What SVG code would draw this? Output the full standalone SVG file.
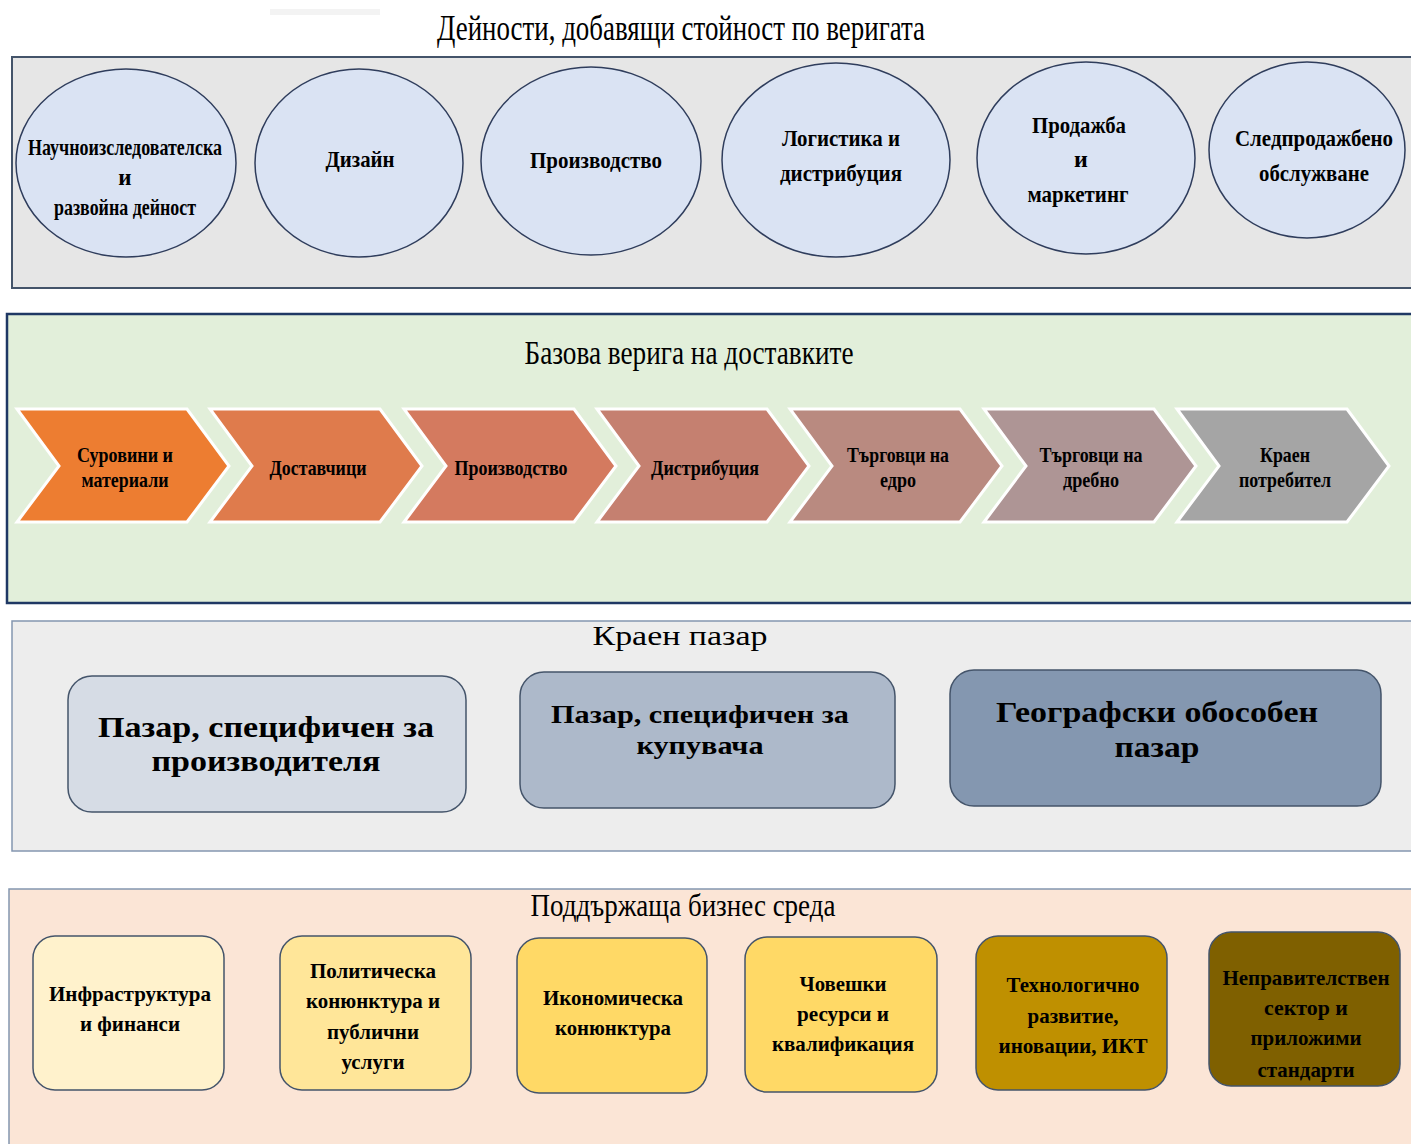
<svg xmlns="http://www.w3.org/2000/svg" width="1411" height="1144" viewBox="0 0 1411 1144">
<style>
.t{font-family:"Liberation Serif","Times New Roman",serif;fill:#000;text-anchor:middle}
.title{font-weight:normal}
.b{font-weight:bold}
.circ{fill:#dae3f3;stroke:#2f3d5c;stroke-width:1.5}
.chev{stroke:#ffffff;stroke-width:3;stroke-linejoin:miter}
.mbox{stroke:#44546a;stroke-width:1.5}
.ebox{stroke:#44546a;stroke-width:1.5}
</style>
<rect width="1411" height="1144" fill="#ffffff"/>
<rect x="270" y="9" width="110" height="6" fill="#f3f3f3"/>

<!-- Panel 1 -->
<g id="panel-activities">
<rect x="12" y="57" width="1404" height="231" fill="#e6e6e6" stroke="#44546a" stroke-width="2"/>
<text class="t title" x="681" y="40" font-size="35" textLength="488" lengthAdjust="spacingAndGlyphs">Дейности, добавящи стойност по веригата</text>
</g>
<g id="n-rd"><ellipse class="circ" cx="126" cy="163" rx="110" ry="94"/>
<text class="t b" font-size="23" x="125" y="155" textLength="194" lengthAdjust="spacingAndGlyphs">Научноизследователска</text>
<text class="t b" font-size="23" x="125" y="185">и</text>
<text class="t b" font-size="23" x="125" y="215" textLength="142" lengthAdjust="spacingAndGlyphs">развойна дейност</text></g>
<g id="n-design"><ellipse class="circ" cx="359" cy="163" rx="104" ry="94"/>
<text class="t b" font-size="24" x="360" y="167" textLength="69" lengthAdjust="spacingAndGlyphs">Дизайн</text></g>
<g id="n-prod"><ellipse class="circ" cx="591" cy="161" rx="110" ry="94"/>
<text class="t b" font-size="24" x="596" y="168" textLength="132" lengthAdjust="spacingAndGlyphs">Производство</text></g>
<g id="n-log"><ellipse class="circ" cx="836" cy="160" rx="114" ry="97"/>
<text class="t b" font-size="24" x="841" y="146" textLength="118" lengthAdjust="spacingAndGlyphs">Логистика и</text>
<text class="t b" font-size="24" x="841" y="181" textLength="122" lengthAdjust="spacingAndGlyphs">дистрибуция</text></g>
<g id="n-sales"><ellipse class="circ" cx="1086" cy="158" rx="109" ry="96"/>
<text class="t b" font-size="24" x="1079" y="133" textLength="94" lengthAdjust="spacingAndGlyphs">Продажба</text>
<text class="t b" font-size="24" x="1081" y="167">и</text>
<text class="t b" font-size="24" x="1078" y="202" textLength="101" lengthAdjust="spacingAndGlyphs">маркетинг</text></g>
<g id="n-after"><ellipse class="circ" cx="1307" cy="150" rx="98" ry="88"/>
<text class="t b" font-size="24" x="1314" y="146" textLength="158" lengthAdjust="spacingAndGlyphs">Следпродажбено</text>
<text class="t b" font-size="24" x="1314" y="181" textLength="110" lengthAdjust="spacingAndGlyphs">обслужване</text></g>

<!-- Panel 2 -->
<g id="panel-supply">
<rect x="7" y="314" width="1410" height="289" fill="#e2efda" stroke="#1f3864" stroke-width="2.5"/>
<text class="t title" x="689" y="364" font-size="33" textLength="329" lengthAdjust="spacingAndGlyphs">Базова верига на доставките</text>
</g>
<g id="connectors"></g>
<g id="c1"><polygon class="chev" fill="#ed7d31" points="17,409 187,409 229,466 187,522 17,522 59,466"/>
<text class="t b" font-size="21" x="125" y="462" textLength="96" lengthAdjust="spacingAndGlyphs">Суровини и</text>
<text class="t b" font-size="21" x="125" y="487" textLength="87" lengthAdjust="spacingAndGlyphs">материали</text></g>
<g id="c2"><polygon class="chev" fill="#df7b4c" points="210,409 380,409 422,466 380,522 210,522 252,466"/>
<text class="t b" font-size="21" x="318" y="475" textLength="97" lengthAdjust="spacingAndGlyphs">Доставчици</text></g>
<g id="c3"><polygon class="chev" fill="#d47a5f" points="404,409 574,409 616,466 574,522 404,522 446,466"/>
<text class="t b" font-size="21" x="511" y="475" textLength="113" lengthAdjust="spacingAndGlyphs">Производство</text></g>
<g id="c4"><polygon class="chev" fill="#c58070" points="597,409 767,409 809,466 767,522 597,522 639,466"/>
<text class="t b" font-size="21" x="705" y="475" textLength="108" lengthAdjust="spacingAndGlyphs">Дистрибуция</text></g>
<g id="c5"><polygon class="chev" fill="#b98a80" points="790,409 960,409 1002,466 960,522 790,522 832,466"/>
<text class="t b" font-size="21" x="898" y="462" textLength="102" lengthAdjust="spacingAndGlyphs">Търговци на</text>
<text class="t b" font-size="21" x="898" y="487" textLength="36" lengthAdjust="spacingAndGlyphs">едро</text></g>
<g id="c6"><polygon class="chev" fill="#ae9595" points="984,409 1154,409 1196,466 1154,522 984,522 1026,466"/>
<text class="t b" font-size="21" x="1091" y="462" textLength="103" lengthAdjust="spacingAndGlyphs">Търговци на</text>
<text class="t b" font-size="21" x="1091" y="487" textLength="56" lengthAdjust="spacingAndGlyphs">дребно</text></g>
<g id="c7"><polygon class="chev" fill="#a5a5a5" points="1177,409 1347,409 1389,466 1347,522 1177,522 1219,466"/>
<text class="t b" font-size="21" x="1285" y="462" textLength="50" lengthAdjust="spacingAndGlyphs">Краен</text>
<text class="t b" font-size="21" x="1285" y="487" textLength="92" lengthAdjust="spacingAndGlyphs">потребител</text></g>

<!-- Panel 3 -->
<g id="panel-market">
<rect x="12" y="621" width="1404" height="230" fill="#ededed" stroke="#8496b0" stroke-width="1.5"/>
<text class="t title" x="680" y="645" font-size="28" textLength="175" lengthAdjust="spacingAndGlyphs">Краен пазар</text>
</g>
<g id="m1"><rect class="mbox" x="68" y="676" width="398" height="136" rx="24" fill="#d6dce5"/>
<text class="t b" font-size="29" x="266" y="737" textLength="336" lengthAdjust="spacingAndGlyphs">Пазар, специфичен за</text>
<text class="t b" font-size="29" x="266" y="771" textLength="229" lengthAdjust="spacingAndGlyphs">производителя</text></g>
<g id="m2"><rect class="mbox" x="520" y="672" width="375" height="136" rx="24" fill="#adb9ca"/>
<text class="t b" font-size="26" x="700" y="723" textLength="298" lengthAdjust="spacingAndGlyphs">Пазар, специфичен за</text>
<text class="t b" font-size="26" x="700" y="754" textLength="127" lengthAdjust="spacingAndGlyphs">купувача</text></g>
<g id="m3"><rect class="mbox" x="950" y="670" width="431" height="136" rx="24" fill="#8497b0"/>
<text class="t b" font-size="30" x="1157" y="722" textLength="322" lengthAdjust="spacingAndGlyphs">Географски обособен</text>
<text class="t b" font-size="30" x="1157" y="757" textLength="85" lengthAdjust="spacingAndGlyphs">пазар</text></g>

<!-- Panel 4 -->
<g id="panel-env">
<rect x="9" y="889" width="1410" height="262" fill="#fbe5d6" stroke="#8496b0" stroke-width="1.5"/>
<text class="t title" x="683" y="916" font-size="31" textLength="305" lengthAdjust="spacingAndGlyphs">Поддържаща бизнес среда</text>
</g>
<g id="e1"><rect class="ebox" x="33" y="936" width="191" height="154" rx="22" fill="#fff2cc"/>
<text class="t b" font-size="21" x="130" y="1001" textLength="162" lengthAdjust="spacingAndGlyphs">Инфраструктура</text>
<text class="t b" font-size="21" x="130" y="1031" textLength="100" lengthAdjust="spacingAndGlyphs">и финанси</text></g>
<g id="e2"><rect class="ebox" x="280" y="936" width="191" height="154" rx="22" fill="#ffe699"/>
<text class="t b" font-size="21" x="373" y="978" textLength="126" lengthAdjust="spacingAndGlyphs">Политическа</text>
<text class="t b" font-size="21" x="373" y="1008" textLength="134" lengthAdjust="spacingAndGlyphs">конюнктура и</text>
<text class="t b" font-size="21" x="373" y="1039" textLength="92" lengthAdjust="spacingAndGlyphs">публични</text>
<text class="t b" font-size="21" x="373" y="1069" textLength="63" lengthAdjust="spacingAndGlyphs">услуги</text></g>
<g id="e3"><rect class="ebox" x="517" y="938" width="190" height="155" rx="22" fill="#ffd966"/>
<text class="t b" font-size="21" x="613" y="1005" textLength="140" lengthAdjust="spacingAndGlyphs">Икономическа</text>
<text class="t b" font-size="21" x="613" y="1035" textLength="116" lengthAdjust="spacingAndGlyphs">конюнктура</text></g>
<g id="e4"><rect class="ebox" x="745" y="937" width="192" height="155" rx="22" fill="#ffd966"/>
<text class="t b" font-size="21" x="843" y="991" textLength="87" lengthAdjust="spacingAndGlyphs">Човешки</text>
<text class="t b" font-size="21" x="843" y="1021" textLength="92" lengthAdjust="spacingAndGlyphs">ресурси и</text>
<text class="t b" font-size="21" x="843" y="1051" textLength="142" lengthAdjust="spacingAndGlyphs">квалификация</text></g>
<g id="e5"><rect class="ebox" x="976" y="936" width="191" height="154" rx="22" fill="#bf9000"/>
<text class="t b" font-size="21" x="1073" y="992" textLength="133" lengthAdjust="spacingAndGlyphs">Технологично</text>
<text class="t b" font-size="21" x="1073" y="1023" textLength="91" lengthAdjust="spacingAndGlyphs">развитие,</text>
<text class="t b" font-size="21" x="1073" y="1053" textLength="149" lengthAdjust="spacingAndGlyphs">иновации, ИКТ</text></g>
<g id="e6"><rect class="ebox" x="1209" y="932" width="191" height="154" rx="22" fill="#7f6000"/>
<text class="t b" font-size="21" x="1306" y="985" textLength="167" lengthAdjust="spacingAndGlyphs">Неправителствен</text>
<text class="t b" font-size="21" x="1306" y="1015" textLength="84" lengthAdjust="spacingAndGlyphs">сектор и</text>
<text class="t b" font-size="21" x="1306" y="1045" textLength="111" lengthAdjust="spacingAndGlyphs">приложими</text>
<text class="t b" font-size="21" x="1306" y="1077" textLength="97" lengthAdjust="spacingAndGlyphs">стандарти</text></g>
</svg>
